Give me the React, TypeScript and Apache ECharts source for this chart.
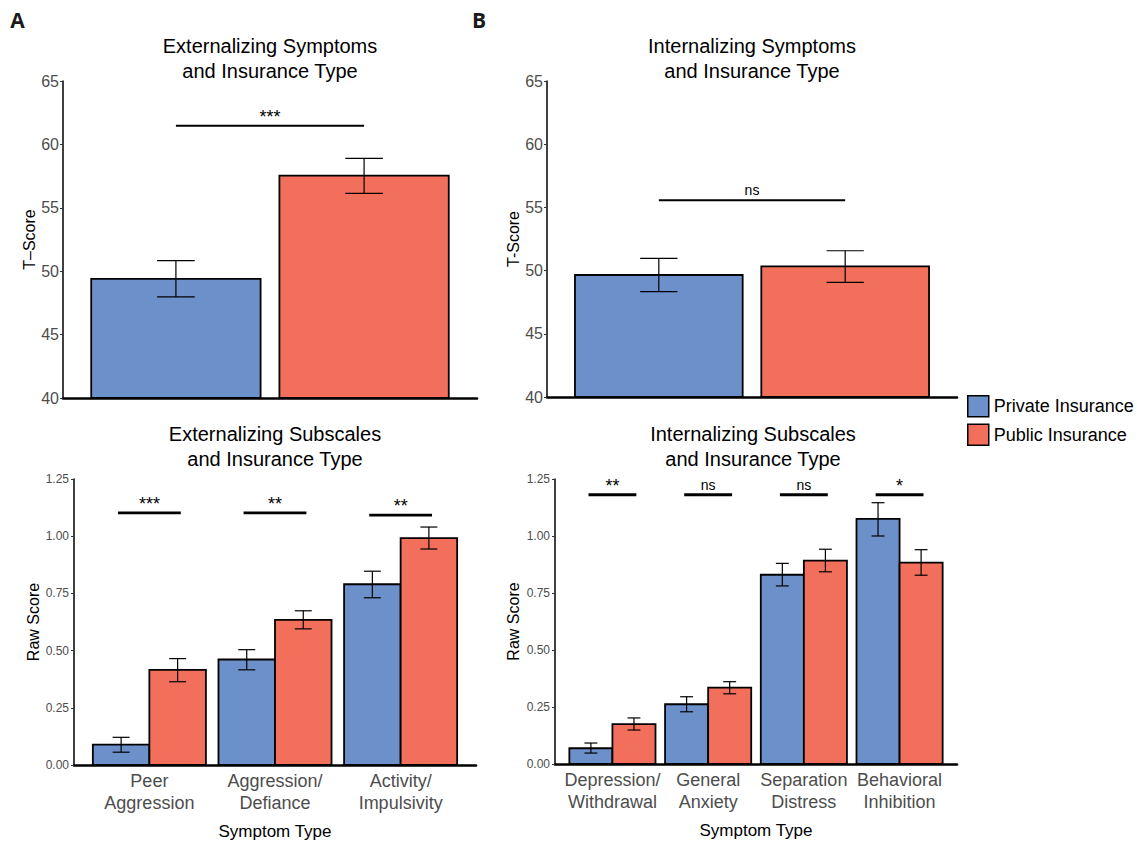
import React, { useEffect, useRef } from "react";
import * as echarts from "echarts";

// ---------- data ----------
const topGroups = ["Private Insurance", "Public Insurance"];

const extTopMean = [49.4, 57.53];
const extTopLow = [47.97, 56.14];
const extTopHigh = [50.83, 58.9];
const extTopSig = ["***"];
const extTopSigY = [61.47];

const intTopMean = [49.65, 50.34];
const intTopLow = [48.33, 49.07];
const intTopHigh = [50.97, 51.57];
const intTopSig = ["ns"];
const intTopSigY = [55.56];

const topTicks = [40, 45, 50, 55, 60, 65];

const extCategories = ["Peer\nAggression", "Aggression/\nDefiance", "Activity/\nImpulsivity"];
const extPrivateMean = [0.089, 0.461, 0.79];
const extPrivateLow = [0.056, 0.416, 0.731];
const extPrivateHigh = [0.121, 0.504, 0.847];
const extPublicMean = [0.416, 0.634, 0.992];
const extPublicLow = [0.364, 0.595, 0.944];
const extPublicHigh = [0.465, 0.674, 1.04];
const extSig = ["***", "**", "**"];
const extSigY = [1.102, 1.102, 1.092];

const intCategories = ["Depression/\nWithdrawal", "General\nAnxiety", "Separation\nDistress", "Behavioral\nInhibition"];
const intPrivateMean = [0.069, 0.262, 0.83, 1.075];
const intPrivateLow = [0.048, 0.229, 0.781, 1.0];
const intPrivateHigh = [0.092, 0.295, 0.88, 1.146];
const intPublicMean = [0.175, 0.335, 0.892, 0.883];
const intPublicLow = [0.149, 0.308, 0.843, 0.828];
const intPublicHigh = [0.202, 0.361, 0.942, 0.94];
const intSig = ["**", "ns", "ns", "*"];
const intSigY = [1.181, 1.181, 1.181, 1.181];

const subTicks = [0, 0.25, 0.5, 0.75, 1.0, 1.25];

// ---------- style ----------
const FONT = '"Liberation Sans", Arial, Helvetica, sans-serif';
const BLUE = "#6C90CA";
const RED = "#F2705B";
const GRAY = "#4D4D4D";

function barSeries(name: string, color: string, xs: number[], ys: number[], width: number, base: number, ai: number) {
  return {
    type: "custom",
    name,
    xAxisIndex: ai,
    yAxisIndex: ai,
    itemStyle: { color },
    data: xs.map((x, i) => [x, ys[i]]),
    encode: { x: 0, y: 1 },
    z: 2,
    silent: true,
    renderItem: (params: any, api: any) => {
      const x = api.value(0);
      const y = api.value(1);
      const a = api.coord([x - width / 2, y]);
      const b = api.coord([x + width / 2, base]);
      return {
        type: "rect",
        shape: { x: a[0], y: a[1], width: b[0] - a[0], height: b[1] - a[1] },
        style: { fill: color, stroke: "#000", lineWidth: 1.8 },
      };
    },
  };
}

function errSeries(xs: number[], lo: number[], hi: number[], cap: number, ai: number) {
  return {
    type: "custom",
    xAxisIndex: ai,
    yAxisIndex: ai,
    data: xs.map((x, i) => [x, lo[i], hi[i]]),
    encode: { x: 0, y: [1, 2] },
    z: 3,
    silent: true,
    renderItem: (params: any, api: any) => {
      const x = api.value(0);
      const l = api.coord([x, api.value(1)]);
      const h = api.coord([x, api.value(2)]);
      const hw = (api.coord([x + cap / 2, api.value(1)])[0] - api.coord([x - cap / 2, api.value(1)])[0]) / 2;
      const st = { stroke: "#000", lineWidth: 1.2 };
      return {
        type: "group",
        children: [
          { type: "line", shape: { x1: l[0], y1: l[1], x2: h[0], y2: h[1] }, style: st },
          { type: "line", shape: { x1: l[0] - hw, y1: l[1], x2: l[0] + hw, y2: l[1] }, style: st },
          { type: "line", shape: { x1: h[0] - hw, y1: h[1], x2: h[0] + hw, y2: h[1] }, style: st },
        ],
      };
    },
  };
}

function sigSeries(x1s: number[], x2s: number[], ys: number[], labels: string[], lw: number, ai: number) {
  return {
    type: "custom",
    xAxisIndex: ai,
    yAxisIndex: ai,
    data: x1s.map((x, i) => [x, x2s[i], ys[i]]),
    encode: { x: [0, 1], y: 2 },
    z: 4,
    silent: true,
    renderItem: (params: any, api: any) => {
      const a = api.coord([api.value(0), api.value(2)]);
      const b = api.coord([api.value(1), api.value(2)]);
      const label = labels[params.dataIndex];
      const stars = /^\*+$/.test(label);
      return {
        type: "group",
        children: [
          { type: "line", shape: { x1: a[0], y1: a[1], x2: b[0], y2: b[1] }, style: { stroke: "#000", lineWidth: lw } },
          {
            type: "text",
            x: (a[0] + b[0]) / 2,
            y: a[1] - (stars ? 0 : 3),
            style: {
              text: label,
              fontSize: stars ? 18 : 14,
              fontFamily: FONT,
              fill: "#000",
              align: "center",
              verticalAlign: "bottom",
            },
          },
        ],
      };
    },
  };
}

const DODGE = 0.225;

function buildOption() {
  const topX = topGroups.map((_, i) => i + 1);
  const extIdx = extCategories.map((_, i) => i + 1);
  const intIdx = intCategories.map((_, i) => i + 1);

  const xBase = (gi: number, min: number, max: number) => ({
    gridIndex: gi,
    type: "value",
    min,
    max,
    axisLine: { show: true, onZero: false, lineStyle: { color: "#000", width: 2.6 } },
    axisTick: { show: false },
    axisLabel: { show: false },
    splitLine: { show: false },
  });

  const xCat = (gi: number, max: number, cats: string[], idx: number[]) => ({
    ...xBase(gi, 0.4, max),
    axisLabel: {
      show: true,
      customValues: idx,
      formatter: (v: number) => cats[Math.round(v) - 1] || "",
      fontSize: 18,
      lineHeight: 22,
      color: GRAY,
      margin: 5,
      fontFamily: FONT,
    },
    name: "Symptom Type",
    nameLocation: "middle",
    nameGap: 58,
    nameTextStyle: { fontSize: 17, color: "#000", fontFamily: FONT },
  });

  const yTop = (gi: number, name: string, gap: number) => ({
    gridIndex: gi,
    type: "value",
    min: topTicks[0],
    max: topTicks[topTicks.length - 1],
    interval: 5,
    axisLine: { show: true, lineStyle: { color: "#000", width: 1.5 } },
    axisTick: { show: true, length: 3, lineStyle: { color: "#333", width: 1 } },
    axisLabel: { fontSize: 16, color: GRAY, margin: 4, fontFamily: FONT },
    splitLine: { show: false },
    name,
    nameLocation: "middle",
    nameRotate: 90,
    nameGap: gap,
    nameTextStyle: { fontSize: 16, color: "#000", fontFamily: FONT },
  });

  const ySub = (gi: number, gap: number) => ({
    gridIndex: gi,
    type: "value",
    min: subTicks[0],
    max: subTicks[subTicks.length - 1],
    interval: 0.25,
    axisLine: { show: true, lineStyle: { color: "#000", width: 1.5 } },
    axisTick: { show: true, length: 3, lineStyle: { color: "#333", width: 1 } },
    axisLabel: { fontSize: 12, color: GRAY, margin: 5, fontFamily: FONT, formatter: (v: number) => v.toFixed(2) },
    splitLine: { show: false },
    name: "Raw Score",
    nameLocation: "middle",
    nameRotate: 90,
    nameGap: gap,
    nameTextStyle: { fontSize: 16, color: "#000", fontFamily: FONT },
  });

  const title = (x: number, y: number, text: string) => ({
    type: "text",
    x,
    y,
    style: {
      text,
      fontSize: 20,
      lineHeight: 25,
      fontFamily: FONT,
      fill: "#000",
      align: "center",
      verticalAlign: "middle",
    },
  });

  const letter = (x: number, y: number, text: string) => ({
    type: "text",
    x,
    y,
    style: {
      text,
      fontSize: 21,
      fontWeight: "bold",
      fontFamily: '"Open Sans", "DejaVu Sans", sans-serif',
      fill: "#1a1a1a",
      align: "center",
      verticalAlign: "middle",
    },
  });

  return {
    animation: false,
    backgroundColor: "#fff",
    textStyle: { fontFamily: FONT },
    grid: [
      { left: 63, top: 81, width: 414, height: 317, outerBoundsMode: "none", containLabel: false },
      { left: 547, top: 81, width: 410, height: 316, outerBoundsMode: "none", containLabel: false },
      { left: 74, top: 479, width: 402, height: 286, outerBoundsMode: "none", containLabel: false },
      { left: 555, top: 479, width: 402, height: 285, outerBoundsMode: "none", containLabel: false },
    ],
    xAxis: [
      xBase(0, 0.4, 2.6),
      xBase(1, 0.4, 2.6),
      xCat(2, 3.6, extCategories, extIdx),
      xCat(3, 4.6, intCategories, intIdx),
    ],
    yAxis: [yTop(0, "T–Score", 23), yTop(1, "T-Score", 26), ySub(2, 31), ySub(3, 34)],
    legend: {
      orient: "vertical",
      left: 962,
      top: 390,
      itemWidth: 21,
      itemHeight: 21,
      itemGap: 6,
      icon: "rect",
      selectedMode: false,
      textStyle: { fontSize: 18, color: "#000", fontFamily: FONT },
      data: [
        { name: "Private Insurance", itemStyle: { color: BLUE, borderColor: "#000", borderWidth: 1.5 } },
        { name: "Public Insurance", itemStyle: { color: RED, borderColor: "#000", borderWidth: 1.5 } },
      ],
    },
    graphic: [
      letter(17.5, 20, "A"),
      letter(479, 20, "B"),
      title(270, 58.5, "Externalizing Symptoms\nand Insurance Type"),
      title(752, 58.5, "Internalizing Symptoms\nand Insurance Type"),
      title(275, 446, "Externalizing Subscales\nand Insurance Type"),
      title(753, 446, "Internalizing Subscales\nand Insurance Type"),
    ],
    series: [
      // top-left
      barSeries("Private Insurance", BLUE, [topX[0]], [extTopMean[0]], 0.9, 40, 0),
      barSeries("Public Insurance", RED, [topX[1]], [extTopMean[1]], 0.9, 40, 0),
      errSeries(topX, extTopLow, extTopHigh, 0.2, 0),
      sigSeries([topX[0]], [topX[1]], extTopSigY, extTopSig, 2, 0),
      // top-right
      barSeries("Private Insurance", BLUE, [topX[0]], [intTopMean[0]], 0.9, 40, 1),
      barSeries("Public Insurance", RED, [topX[1]], [intTopMean[1]], 0.9, 40, 1),
      errSeries(topX, intTopLow, intTopHigh, 0.2, 1),
      sigSeries([topX[0]], [topX[1]], intTopSigY, intTopSig, 2, 1),
      // bottom-left
      barSeries("Private Insurance", BLUE, extIdx.map((i) => i - DODGE), extPrivateMean, 0.45, 0, 2),
      barSeries("Public Insurance", RED, extIdx.map((i) => i + DODGE), extPublicMean, 0.45, 0, 2),
      errSeries(extIdx.map((i) => i - DODGE), extPrivateLow, extPrivateHigh, 0.135, 2),
      errSeries(extIdx.map((i) => i + DODGE), extPublicLow, extPublicHigh, 0.135, 2),
      sigSeries(extIdx.map((i) => i - 0.25), extIdx.map((i) => i + 0.25), extSigY, extSig, 2.8, 2),
      // bottom-right
      barSeries("Private Insurance", BLUE, intIdx.map((i) => i - DODGE), intPrivateMean, 0.45, 0, 3),
      barSeries("Public Insurance", RED, intIdx.map((i) => i + DODGE), intPublicMean, 0.45, 0, 3),
      errSeries(intIdx.map((i) => i - DODGE), intPrivateLow, intPrivateHigh, 0.135, 3),
      errSeries(intIdx.map((i) => i + DODGE), intPublicLow, intPublicHigh, 0.135, 3),
      sigSeries(intIdx.map((i) => i - 0.25), intIdx.map((i) => i + 0.25), intSigY, intSig, 2.8, 3),
    ],
  };
}

export default function App() {
  const ref = useRef<HTMLDivElement>(null);
  useEffect(() => {
    if (!ref.current) return;
    const chart = echarts.init(ref.current, null, { renderer: "svg" });
    chart.setOption(buildOption() as any);
    return () => chart.dispose();
  }, []);
  return (
    <div
      ref={ref}
      style={{ position: "absolute", left: 0, top: 0, width: 1137, height: 843, background: "#fff" }}
    />
  );
}
